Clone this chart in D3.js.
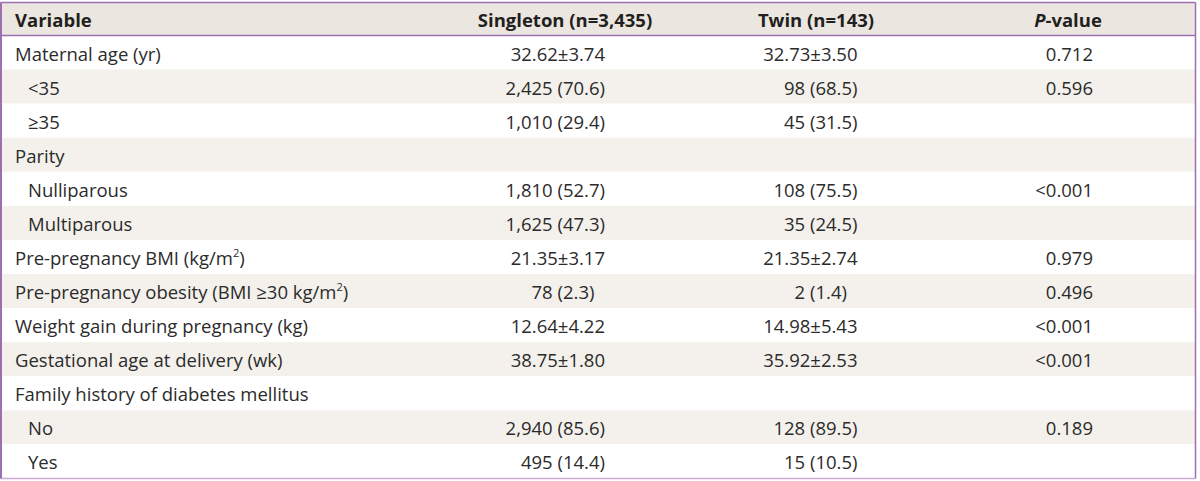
<!DOCTYPE html>
<html><head><meta charset="utf-8">
<script src="https://cdn.jsdelivr.net/npm/d3@7"></script>
<style>
html,body{margin:0;padding:0;background:#fff;}
svg{display:block;}
text{font-family:"Open Sans","Noto Sans",sans-serif;}
</style></head>
<body>
<svg id="chart" width="1200" height="481"></svg>
<script>
// ---- data ----
const headers = ["Variable", "Singleton (n=3,435)", "Twin (n=143)", "P-value"];
const variables = [
  "Maternal age (yr)", "<35", "≥35", "Parity", "Nulliparous", "Multiparous",
  "Pre-pregnancy BMI (kg/m^2)", "Pre-pregnancy obesity (BMI ≥30 kg/m^2)",
  "Weight gain during pregnancy (kg)", "Gestational age at delivery (wk)",
  "Family history of diabetes mellitus", "No", "Yes"
];
const indented = [false, true, true, false, true, true, false, false, false, false, false, true, true];
const singleton = ["32.62±3.74", "2,425 (70.6)", "1,010 (29.4)", "", "1,810 (52.7)", "1,625 (47.3)",
  "21.35±3.17", "78 (2.3)", "12.64±4.22", "38.75±1.80", "", "2,940 (85.6)", "495 (14.4)"];
const twin = ["32.73±3.50", "98 (68.5)", "45 (31.5)", "", "108 (75.5)", "35 (24.5)",
  "21.35±2.74", "2 (1.4)", "14.98±5.43", "35.92±2.53", "", "128 (89.5)", "15 (10.5)"];
const pvalues = ["0.712", "0.596", "", "", "<0.001", "", "0.979", "0.496", "<0.001", "<0.001", "", "0.189", ""];

// ---- layout ----
const W = 1200, H = 481;
const FS = 18.5;
const tableLeft = 0.5, tableRight = 1195.5, tableTop = 2.5, headerBottom = 35.5, tableBottom = 478.5;
const svg = d3.select("#chart");

const y = d3.scaleBand().domain(d3.range(variables.length)).range([headerBottom, tableBottom]).padding(0);

// header band
svg.append("rect").attr("x", tableLeft).attr("y", tableTop).attr("width", tableRight - tableLeft)
  .attr("height", headerBottom - tableTop).attr("fill", "#ebe7e0");

// row bands
svg.selectAll("rect.row").data(variables).join("rect").attr("class", "row")
  .attr("x", tableLeft).attr("y", (d, i) => y(i)).attr("width", tableRight - tableLeft)
  .attr("height", y.bandwidth()).attr("fill", (d, i) => i % 2 ? "#f4f1ec" : "#ffffff");

// header text
const hdrY = 27;
const hdr = svg.append("g").attr("font-weight", "bold").attr("font-size", FS).attr("fill", "#231f20");
hdr.append("text").attr("x", 15).attr("y", hdrY).text(headers[0]);
hdr.append("text").attr("x", 565).attr("y", hdrY).attr("text-anchor", "middle").text(headers[1]);
hdr.append("text").attr("x", 816).attr("y", hdrY).attr("text-anchor", "middle").text(headers[2]);
const pt = hdr.append("text").attr("x", 1068).attr("y", hdrY).attr("text-anchor", "middle");
pt.append("tspan").attr("font-style", "italic").text(headers[3].slice(0, 1));
pt.append("tspan").text(headers[3].slice(1));

// body text
const body = svg.append("g").attr("font-size", FS).attr("fill", "#2b2b2b");
const base = i => y(i) + 25;

body.selectAll("text.var").data(variables).join("text").attr("class", "var")
  .attr("x", (d, i) => indented[i] ? 28 : 15).attr("y", (d, i) => base(i))
  .each(function (d) {
    const parts = d.split("^");
    const t = d3.select(this);
    t.append("tspan").text(parts[0]);
    if (parts.length > 1) {
      t.append("tspan").attr("font-size", FS * 0.6).attr("dy", -8).text(parts[1].slice(0, 1));
      t.append("tspan").attr("dy", 8).text(parts[1].slice(1));
    }
  });

// digit width for decimal alignment of one-digit percentages
const probe = body.append("text").attr("x", -100).attr("y", -100).text("0");
const digitW = probe.node().getComputedTextLength();
probe.remove();
const shift = d => /\(\d\.\d\)$/.test(d) ? digitW : 0;

body.selectAll("text.sing").data(singleton).join("text").attr("class", "sing")
  .attr("text-anchor", "end").attr("x", d => 605 - shift(d)).attr("y", (d, i) => base(i)).text(d => d);
body.selectAll("text.twin").data(twin).join("text").attr("class", "twin")
  .attr("text-anchor", "end").attr("x", d => 857.5 - shift(d)).attr("y", (d, i) => base(i)).text(d => d);
body.selectAll("text.pv").data(pvalues).join("text").attr("class", "pv")
  .attr("text-anchor", "end").attr("x", 1093).attr("y", (d, i) => base(i)).text(d => d);

// borders
const stroke = "#9c6fb2";
svg.append("line").attr("x1", tableLeft).attr("x2", tableRight).attr("y1", tableTop).attr("y2", tableTop).attr("stroke", stroke).attr("stroke-width", 1.5);
svg.append("line").attr("x1", tableLeft).attr("x2", tableRight).attr("y1", headerBottom).attr("y2", headerBottom).attr("stroke", stroke).attr("stroke-width", 1.5);
svg.append("line").attr("x1", tableLeft).attr("x2", tableRight).attr("y1", tableBottom).attr("y2", tableBottom).attr("stroke", "#c9a9d6").attr("stroke-width", 1.5);
svg.append("line").attr("x1", tableLeft + 0.5).attr("x2", tableLeft + 0.5).attr("y1", tableTop).attr("y2", tableBottom).attr("stroke", stroke).attr("stroke-width", 2);
svg.append("line").attr("x1", tableRight).attr("x2", tableRight).attr("y1", tableTop).attr("y2", tableBottom).attr("stroke", stroke).attr("stroke-width", 1.5);
</script>
</body></html>
